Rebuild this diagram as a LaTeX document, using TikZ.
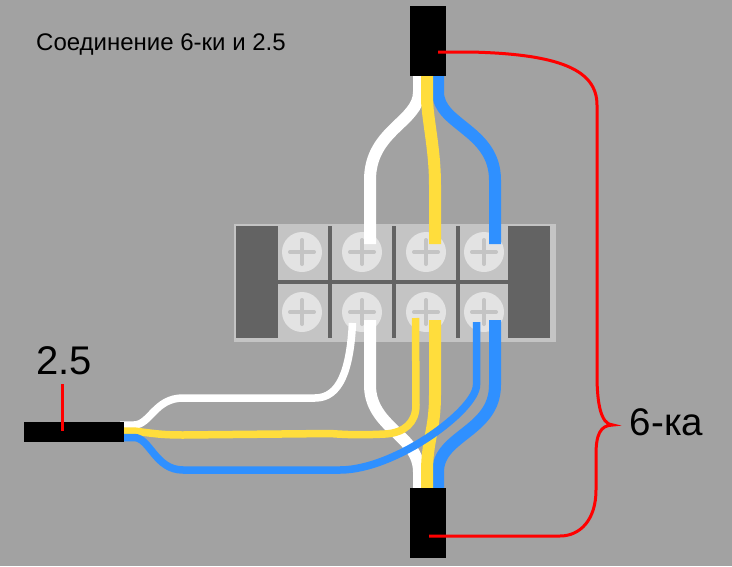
\documentclass[tikz,border=0pt]{standalone}
\usepackage{fontspec}
\setmainfont{Liberation Sans}
\usepackage{xcolor}
\definecolor{wallgrey}{HTML}{A2A2A2}
\definecolor{blockgrey}{HTML}{C4C4C4}
\definecolor{bargrey}{HTML}{636363}
\definecolor{screwgrey}{HTML}{E3E3E3}
\definecolor{wireyellow}{HTML}{FFDD3C}
\definecolor{wireblue}{HTML}{2F90FF}

\begin{document}
\begin{tikzpicture}
	[x=1pt, y=-1pt,
	box/.style = {rectangle, draw=none, inner sep=0pt, outer sep=0pt},
	plug/.style = {box, fill=black},
	bar/.style = {box, fill=bargrey},
	screw/.style = {circle, fill=screwgrey, inner sep=0pt, minimum size=40pt,
		path picture={\draw[blockgrey, line width=4pt, line cap=round]
			(path picture bounding box.center) ++(-12pt,0) -- ++(24pt,0)
			(path picture bounding box.center) ++(0,-12pt) -- ++(0,24pt);}},
	thickwire/.style = {line width=12pt},
	thinwire/.style = {line width=7.5pt},
	lead/.style = {draw=red, line width=3pt}]
	\fill[wallgrey] (0,0) rectangle (732,566);
	\useasboundingbox (0,0) rectangle (732,566);
	% terminal block
	\node[box, fill=blockgrey, minimum width=322pt, minimum height=118pt] (block) at (395,283) {};
	\node[bar, minimum width=42pt, minimum height=112pt] (endL) at (257,282) {};
	\node[bar, minimum width=42pt, minimum height=112pt] (endR) at (529,282) {};
	\node[bar, minimum width=230pt, minimum height=4pt] (midbar) at (393,282) {};
	\node[bar, minimum width=4pt, minimum height=112pt] (bar1) at (330,282) {};
	\node[bar, minimum width=4pt, minimum height=112pt] (bar2) at (394,282) {};
	\node[bar, minimum width=4pt, minimum height=112pt] (bar3) at (458,282) {};
	\node[screw] (s1) at (302,252) {};
	\node[screw] (s2) at (362,252) {};
	\node[screw] (s3) at (426,252) {};
	\node[screw] (s4) at (484,252) {};
	\node[screw] (s5) at (302,312) {};
	\node[screw] (s6) at (362,312) {};
	\node[screw] (s7) at (426,312) {};
	\node[screw] (s8) at (484,312) {};
	% wire ends
	\coordinate (topW) at (419,70);
	\coordinate (topY) at (427,70);
	\coordinate (topB) at (438,70);
	\coordinate (botW) at (419,494);
	\coordinate (botY) at (427,494);
	\coordinate (botB) at (438,494);
	\coordinate (smallW) at (120,425);
	\coordinate (smallY) at (120,431);
	\coordinate (smallB) at (120,437.5);
	\coordinate (t2) at (370,244);
	\coordinate (t3) at (435,244);
	\coordinate (t4) at (495,244);
	\coordinate (b2) at (370,320);
	\coordinate (b3) at (435,320);
	\coordinate (b4) at (495,320);
	\coordinate (n2) at (352.5,323);
	\coordinate (n3) at (415.5,318);
	\coordinate (n4) at (476.5,322);
	% thick wires
	\draw[thickwire, white] (topW) -- (419,92) .. controls (419,122) and (370,130) .. (370,180) -- (t2);
	\draw[thickwire, wireblue] (topB) -- (438,92) .. controls (438,125) and (495,130) .. (495,180) -- (t4);
	\draw[thickwire, wireyellow] (topY) -- (427,100) .. controls (428,122) and (435,150) .. (435,185) -- (t3);
	\draw[thickwire, white] (b2) -- (370,385) .. controls (370,428) and (419,435) .. (419,472) -- (botW);
	\draw[thickwire, wireblue] (b4) -- (495,385) .. controls (495,432) and (438,435) .. (438,472) -- (botB);
	\draw[thickwire, wireyellow] (b3) -- (435,395) .. controls (435,430) and (427,440) .. (427,472) -- (botY);
	% thin wires
	\draw[thinwire, white] (smallW) -- (134,425) .. controls (150,425) and (155,398) .. (183,398) -- (315,398) .. controls (340,398) and (350,370) .. (n2);
	\draw[thinwire, wireyellow] (smallY) -- (134,431) .. controls (150,433) and (160,435) .. (183,435) -- (330,433.5) .. controls (350,435) and (365,435) .. (385,434) .. controls (405,433) and (416,422) .. (416,405) -- (n3);
	\draw[thinwire, wireblue] (smallB) -- (134,437.5) .. controls (150,437.5) and (155,470) .. (183,470) -- (340,470) .. controls (395,470) and (476.5,410) .. (476.5,385) -- (n4);
	% plugs
	\node[plug, minimum width=36pt, minimum height=70pt] (plugT) at (428,41) {};
	\node[plug, minimum width=36pt, minimum height=70pt] (plugB) at (428,523) {};
	\node[plug, minimum width=100pt, minimum height=20pt] (plugS) at (74,432) {};
	% labels
	\node[anchor=west, inner sep=0pt, font=\fontsize{24}{28}\selectfont] (title) at (36,45) {Соединение 6-ки и 2.5};
	\node[inner sep=0pt, font=\fontsize{40}{48}\selectfont] (small) at (64,361) {2.5};
	\node[inner sep=0pt, font=\fontsize{38.5}{46}\selectfont] (big) at (666.5,422) {6-ка};
	% leaders
	\coordinate (leadT) at (438,52);
	\coordinate (leadB) at (429,536);
	\coordinate (leadS) at (62,431);
	\coordinate (leadU) at (62,384);
	\draw[lead] (leadU) -- (leadS);
	\draw[lead] (leadT) -- (470,52) .. controls (560,54) and (597,70) .. (597,105) -- (597,375) .. controls (597,400) and (600,425) .. (613,425) .. controls (600,425) and (596,435) .. (596,455) -- (596,490) .. controls (596,520) and (580,536) .. (560,536) -- (leadB);
\end{tikzpicture}
\end{document}
